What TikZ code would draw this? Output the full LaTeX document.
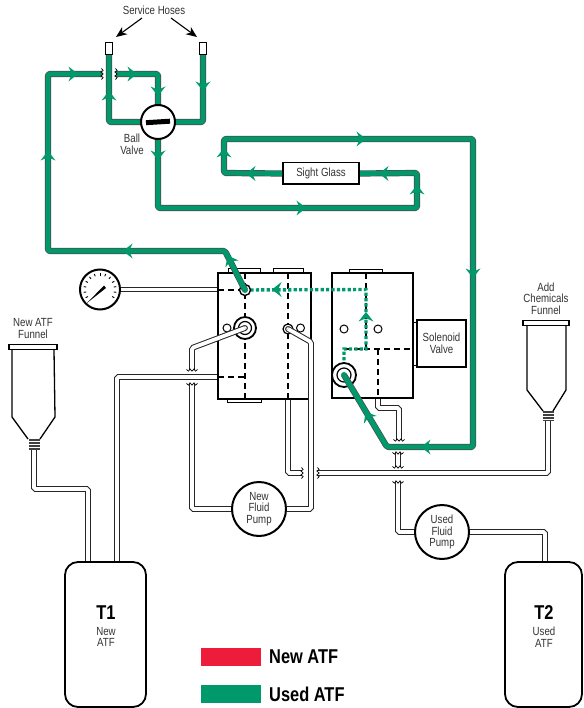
\documentclass[tikz,border=0pt]{standalone}
\usepackage{fontspec}
\setmainfont[FakeStretch=0.82]{Liberation Sans}
\usetikzlibrary{backgrounds,arrows.meta,calc}
\definecolor{usedg}{HTML}{00996B}
\definecolor{newr}{HTML}{ED1C3A}
\definecolor{txt}{HTML}{333333}
\tikzset{
  box/.style={draw=black,fill=white,inner sep=0pt,outer sep=0pt,line width=2pt},
  thinbox/.style={draw=black,fill=white,inner sep=0pt,outer sep=0pt,line width=1pt},
  tank/.style={draw=black,fill=white,inner sep=0pt,outer sep=0pt,line width=1.8pt,rounded corners=13pt},
  roundel/.style={circle,draw=black,fill=white,inner sep=0pt,outer sep=0pt,line width=2pt},
  label/.style={text=txt,align=center,inner sep=0pt,font=\fontsize{11.8}{11.6}\selectfont},
  pipe/.style={draw=black!85,line width=1pt,double=white,double distance=3.8pt,rounded corners=1.5pt},
  pipecap/.style={circle,draw=black!85,fill=white,line width=1pt,inner sep=0pt,outer sep=0pt,minimum size=4.8pt},
  gpipe/.style={draw=black!70,line width=.7pt,double=usedg,double distance=4.8pt,rounded corners=1.5pt,line join=round},
  gpipecap/.style={circle,fill=usedg,inner sep=0pt,outer sep=0pt,minimum size=6pt},
  dots/.style={draw=usedg,line width=3.4pt,dash pattern=on 3.2pt off 2.2pt},
  dashline/.style={draw=black,line width=1.5pt,dash pattern=on 6pt off 4pt},
  legend/.style={text=black,inner sep=0pt,anchor=west,font=\fontsize{20}{20}\bfseries\selectfont}
}
\newcommand{\gar}[3]{\fill[usedg,shift={(#1,#2)},rotate=#3] (5pt,0pt)--(-4.5pt,7.5pt)--(-1.2pt,0pt)--(-4.5pt,-7.5pt)--cycle;}
\newcommand{\squig}[3]{\draw[black,line width=.7pt,shift={(#1,#2)},rotate=#3] (-5.5pt,.6pt)--(-3.5pt,-1.2pt)--(-2pt,1.2pt)--(0pt,-1.2pt)--(2pt,1.2pt)--(3.5pt,-1.2pt)--(5.5pt,.6pt);}
\begin{document}
\begin{tikzpicture}[x=1pt,y=-1pt]
\useasboundingbox (0,0) rectangle (583,708);
% ---- main nodes
\node[thinbox,minimum width=32pt,minimum height=3.5pt] (tab1) at (244,270.5) {};
\node[thinbox,minimum width=30pt,minimum height=3.5pt] (tab2) at (288,270.5) {};
\node[thinbox,minimum width=34pt,minimum height=3.5pt] (tab3) at (244.5,400.5) {};
\node[thinbox,minimum width=33pt,minimum height=3.5pt] (tab4) at (365.5,271) {};
\node[box,minimum width=93pt,minimum height=126pt] (block1) at (264.5,336) {};
\node[box,minimum width=81pt,minimum height=125pt] (block2) at (372.5,335.5) {};
\node[thinbox,minimum width=4pt,minimum height=43pt] (solneck) at (415,343.5) {};
\node[box,minimum width=49pt,minimum height=47pt,label] (solenoid) at (441.5,343.5) {Solenoid\\Valve};
\node[box,minimum width=76pt,minimum height=21.5pt,label,line width=1.5pt] (sight) at (321,173.5) {Sight Glass};
\node[roundel,minimum size=34pt] (valve) at (158,122) {};
\node[roundel,minimum size=40pt] (gauge) at (100,289.5) {};
\node[roundel,minimum size=54pt,label] (newpump) at (259,509) {New\\Fluid\\Pump};
\node[roundel,minimum size=54pt,label] (usedpump) at (442,532) {Used\\Fluid\\Pump};
\node[tank,minimum width=81pt,minimum height=145pt] (t1) at (105.5,634.5) {};
\node[tank,minimum width=77pt,minimum height=145pt] (t2) at (543.5,634.5) {};
\node[thinbox,minimum width=7.5pt,minimum height=12pt] (fitl) at (109,49) {};
\node[thinbox,minimum width=7.5pt,minimum height=12pt] (fitr) at (203,49) {};
% ---- funnels
\node[thinbox,line width=1.3pt,minimum width=48pt,minimum height=5.5pt] (capl) at (33,347) {};
\node[thinbox,line width=1.3pt,minimum width=46pt,minimum height=5.5pt] (capr) at (546,323) {};
\node[fill=black!75,inner sep=0pt,outer sep=0pt,minimum width=11pt,minimum height=11pt] (thl) at (34,444.5) {};
\node[fill=black!75,inner sep=0pt,outer sep=0pt,minimum width=11pt,minimum height=10pt] (thr) at (548,416) {};
\draw[line width=1.3pt,line join=round] (capl.south west)++(3,0) -- (12,417) -- (28,439) (capl.south east)++(-3,0) -- (55,417) -- (40,439);
\draw[line width=1.3pt,line join=round] (capr.south west)++(4,0) -- (527,390) -- (543,411) (capr.south east)++(-3,0) -- (566,390) -- (553,411);
\foreach \yy in {441.5,444.5,447.5}{\draw[white,line width=.5pt] (28.5,\yy) -- (39.5,\yy);}
\foreach \yy in {413.5,416.5,419}{\draw[white,line width=.5pt] (542.5,\yy) -- (553.5,\yy);}
% ---- valve and gauge details
\draw[line width=5pt] (146,122.7) -- (170,121.2);
\foreach \aa in {-30,-10,...,210}{\draw[line width=.9pt] ($(gauge)+(\aa:14pt)$) -- ($(gauge)+(\aa:16.5pt)$);}
\coordinate (n1) at (87,303);
\fill (n1) -- (104,285.5) -- (106,288) -- cycle;
% ---- dashed lines inside blocks
\coordinate (hole1) at (245,290);
\coordinate (hole2) at (245,328);
\coordinate (hole3) at (288,329);
\coordinate (hole4) at (344,375);
\draw[dashline] (block1.west |- hole1) -- (hole1);
\draw[dashline] (block1.north -| hole1) -- (block1.south -| hole1);
\draw[dashline] (block1.north -| hole3) -- (block1.south -| hole3);
\draw[dashline] (218,377) -- (245,377);
\draw[dashline] (block2.north -| 366,0) -- (366,349);
\draw[dashline] (344,349) -- (block2.east |- 0,349);
\draw[dashline] (378,349) -- (block2.south -| 378,0);
% ---- green dotted path
\draw[dots] (hole1) -- (366,289.5) -- (366,349) -- (344,349) -- (hole4);
% ---- port circles
\foreach \nm/\px/\py/\rr in {pa/227/328/8,pb/300.5/328/8,pc/344/329/8,pd/378/329/8}{\node[circle,draw=black,fill=white,line width=1pt,inner sep=0pt,minimum size=\rr pt] (\nm) at (\px,\py) {};}
\node[circle,draw=black,fill=white,line width=1.4pt,inner sep=0pt,minimum size=11pt] (port1) at (hole1) {};
\node[circle,draw=black,fill=white,line width=1.8pt,inner sep=0pt,minimum size=22pt] (port2) at (hole2) {};
\node[circle,draw=black,line width=1.2pt,inner sep=0pt,minimum size=13pt] (port2i) at (hole2) {};
\node[circle,draw=black,fill=white,line width=1.2pt,inner sep=0pt,minimum size=10pt] (port3) at (hole3) {};
\node[circle,draw=black,fill=white,line width=1.8pt,inner sep=0pt,minimum size=24pt] (port4) at (hole4) {};
\node[circle,draw=black,line width=1.2pt,inner sep=0pt,minimum size=14pt] (port4i) at (hole4) {};
% ---- white pipes starting on the blocks
\node[pipecap] (cap2) at (hole2) {};
\node[pipecap] (cap3) at (hole3) {};
\draw[pipe] (hole2) -- (192,348) -- (192,370);
\draw[pipe] ($(newpump.east)+(1,0)$) -- (311,509) -- (311,342) -- (hole3);
% ---- green pipes on top of blocks
\node[gpipecap] (cap1) at (hole1) {};
\node[gpipecap] (cap4) at (hole4) {};
\draw[gpipe] (hole1) -- (225,251) -- (48,251) -- (48,74) -- (102,74);
\draw[gpipe] (hole4) -- (387,447) -- (473,447) -- (473,139) -- (224,139) -- (224,173) -- ($(sight.west)+(-.8,0)$);
% ---- pipes behind the nodes
\begin{scope}[on background layer]
\fill[white] (0,0) rectangle (583,708);
\draw[pipe] (gauge.east) -- (block1.west |- gauge.east);
\draw[pipe] (block1.west |- 0,377) -- (117,377) -- (t1.north -| 117,0);
\draw[pipe] (192,384) -- (192,509) -- (newpump.west);
\draw[pipe] (block1.south -| hole3) -- (288,473) -- (302,473);
\draw[pipe] (318,473) -- (548,473) -- (thr.south);
\draw[pipe] (thl.south) -- (34,489) -- (88,489) -- (t1.north -| 88,0);
\draw[pipe] (block2.south -| 378,0) -- (378,408) -- (399,408) -- (399,440);
\draw[pipe] (398,453) -- (398,467);
\draw[pipe] (398,482) -- (398,532) -- (usedpump.west);
\draw[pipe] (usedpump.east) -- (545,532) -- (t2.north -| 545,0);
\draw[gpipe] (fitl.south) -- (109,122) -- (valve.west);
\draw[gpipe] (fitr.south) -- (203,122) -- (valve.east);
\draw[gpipe] (116,74) -- (158,74) -- (valve.north);
\draw[gpipe] (valve.south) -- (158,208) -- (417,208) -- (417,173) -- (sight.east);
\end{scope}
% ---- breaks
\squig{192}{370}{0}\squig{192}{384}{0}
\squig{399}{440}{0}\squig{398}{453}{0}\squig{398}{467}{0}\squig{398}{482}{0}
\squig{102}{74}{90}\squig{116}{74}{90}\squig{302}{473}{90}\squig{318}{473}{90}
% ---- flow arrows
\gar{73}{74}{0}\gar{132}{74}{0}\gar{158}{91}{270}\gar{109}{96}{90}\gar{203}{86}{270}
\gar{158}{155}{270}\gar{48}{156}{90}\gar{224}{153}{90}\gar{361}{139}{0}
\gar{251}{173.5}{180}\gar{384}{173.5}{180}\gar{417}{190}{90}\gar{301}{208}{0}
\gar{473}{273}{270}\gar{426}{447}{180}\gar{368}{416}{121}\gar{128}{251}{180}
\gar{230}{260}{117}\gar{277}{289.5}{180}\gar{366}{317}{90}
% ---- labels
\node[label] (lhoses) at (154,10) {Service Hoses};
\node[label] (lball) at (132,144) {Ball\\Valve};
\node[label] (lnewf) at (33,328.5) {New ATF\\Funnel};
\node[label] (laddf) at (546,298.5) {Add\\Chemicals\\Funnel};
\coordinate (hl) at (116,37);
\coordinate (hr) at (197,37);
\coordinate (hs1) at (142,18);
\coordinate (hs2) at (171,18);
\draw[line width=1.1pt,-{Stealth[length=11pt,width=9pt]}] (hs1) -- (hl);
\draw[line width=1.1pt,-{Stealth[length=11pt,width=9pt]}] (hs2) -- (hr);
\node[text=black,inner sep=0pt,font=\fontsize{20}{20}\bfseries\selectfont] (lt1) at (106,612.5) {T1};
\node[text=black,inner sep=0pt,font=\fontsize{20}{20}\bfseries\selectfont] (lt2) at (544,612.5) {T2};
\node[label] (lt1b) at (106,637) {New\\ATF};
\node[label] (lt2b) at (544,637) {Used\\ATF};
% ---- legend
\node[fill=newr,inner sep=0pt,minimum width=60pt,minimum height=18pt] (kn) at (231,657) {};
\node[fill=usedg,inner sep=0pt,minimum width=60pt,minimum height=18pt] (ku) at (231,693.5) {};
\node[legend] (ktn) at (269,657) {New ATF};
\node[legend] (ktu) at (269,694) {Used ATF};
\end{tikzpicture}
\end{document}
